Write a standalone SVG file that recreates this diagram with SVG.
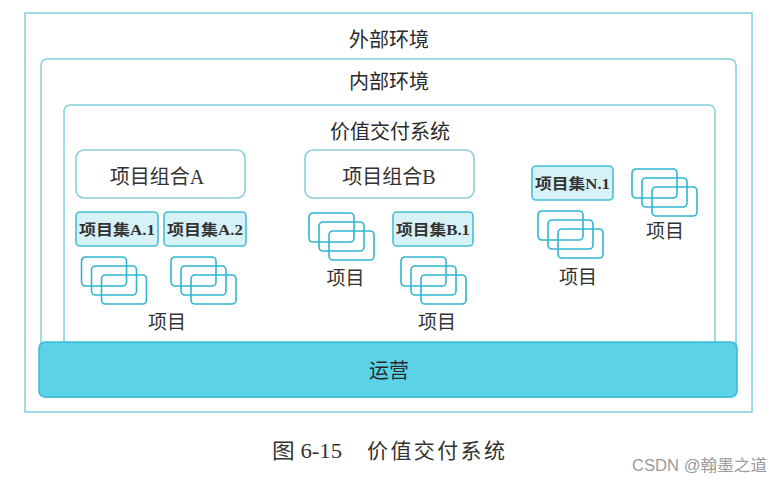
<svg xmlns="http://www.w3.org/2000/svg" xmlns:xlink="http://www.w3.org/1999/xlink" width="780" height="482" viewBox="0 0 780 482">
<style>
.cont{fill:none;stroke:#7fcfdc;stroke-width:1.5}
.pf{fill:#ffffff;stroke:#8ccfda;stroke-width:1.6}
.ps{fill:#d6f2f7;stroke:#45c0d6;stroke-width:1.6}
.sr{fill:none;stroke:#2fb6d0;stroke-width:1.6}
.hd{font-family:"Noto Sans CJK SC","Noto Sans",sans-serif;font-size:20px;fill:#2a2a2a;text-anchor:middle}
.pt{font-family:"Liberation Serif","Noto Sans CJK SC",serif;font-size:20px;fill:#333;text-anchor:middle}
.st{font-family:"Liberation Serif","Noto Sans CJK SC",serif;font-size:15px;font-weight:bold;fill:#333;text-anchor:middle}
.lb{font-family:"Noto Sans CJK SC",sans-serif;font-size:19px;fill:#333;text-anchor:middle}
</style>
<defs>
<g id="stack">
<rect class="sr" x="0" y="0" width="45" height="29" rx="4"/>
<rect class="sr" x="10" y="9" width="45" height="29" rx="4"/>
<rect class="sr" x="20" y="18" width="45" height="29" rx="4"/>
</g>
</defs>
<rect width="780" height="482" fill="#ffffff"/>
<g id="outer-env">
<rect class="cont" x="25" y="13" width="727" height="399"/>
<text class="hd" x="389" y="47">外部环境</text>
</g>
<g id="inner-env">
<rect class="cont" x="41" y="59" width="695" height="338" rx="6"/>
<text class="hd" x="389" y="89">内部环境</text>
</g>
<g id="value-system">
<rect class="cont" x="64" y="105" width="651" height="250" rx="6"/>
<text class="hd" x="390" y="139">价值交付系统</text>
</g>
<g id="portfolio-a">
<rect class="pf" x="76" y="150" width="169" height="48" rx="8"/>
<text class="pt" x="157" y="184">项目组合A</text>
</g>
<g id="portfolio-b">
<rect class="pf" x="305" y="150" width="169" height="48" rx="8"/>
<text class="pt" x="389" y="184">项目组合B</text>
</g>
<g id="program-a1">
<rect class="ps" x="76" y="212" width="82" height="34" rx="4"/>
<text class="st" x="117" y="235" textLength="76" lengthAdjust="spacingAndGlyphs">项目集A.1</text>
</g>
<g id="program-a2">
<rect class="ps" x="164" y="212" width="82" height="34" rx="4"/>
<text class="st" x="205" y="235" textLength="76" lengthAdjust="spacingAndGlyphs">项目集A.2</text>
</g>
<g id="program-b1">
<rect class="ps" x="393" y="212" width="80" height="34" rx="4"/>
<text class="st" x="433" y="235" textLength="74" lengthAdjust="spacingAndGlyphs">项目集B.1</text>
</g>
<g id="program-n1">
<rect class="ps" x="532" y="166" width="81" height="34" rx="4"/>
<text class="st" x="572.5" y="189" textLength="75" lengthAdjust="spacingAndGlyphs">项目集N.1</text>
</g>
<g id="projects-a1"><use xlink:href="#stack" x="81.5" y="257"/></g>
<g id="projects-a2"><use xlink:href="#stack" x="171" y="257"/></g>
<g id="projects-a-label"><text class="lb" x="167" y="329">项目</text></g>
<g id="projects-b"><use xlink:href="#stack" x="309" y="213"/><text class="lb" x="345.5" y="285">项目</text></g>
<g id="projects-b1"><use xlink:href="#stack" x="401" y="257"/><text class="lb" x="437" y="329">项目</text></g>
<g id="projects-n1"><use xlink:href="#stack" x="538" y="211"/><text class="lb" x="578" y="284">项目</text></g>
<g id="projects-standalone"><use xlink:href="#stack" x="632" y="169"/><text class="lb" x="665" y="238">项目</text></g>
<g id="operations">
<rect x="39" y="342" width="698" height="55" rx="6" fill="#5cd2e8" stroke="#39bad3" stroke-width="1.5"/>
<text class="hd" x="389" y="378">运营</text>
</g>
<g id="connectors"></g>
<g id="caption">
<text x="272" y="458" font-family="Liberation Serif,'Noto Sans CJK SC',serif" font-size="21" fill="#333" textLength="70" lengthAdjust="spacingAndGlyphs">图 6-15</text>
<text x="367" y="458" font-family="'Noto Sans CJK SC',serif" font-size="21" fill="#333" textLength="138" lengthAdjust="spacing">价值交付系统</text>
</g>
<g id="watermark">
<text x="632" y="471" font-family="'Liberation Sans','Noto Sans CJK SC',sans-serif" font-size="16" fill="#9a9a9a" textLength="135" lengthAdjust="spacingAndGlyphs">CSDN @翰墨之道</text>
</g>
</svg>
